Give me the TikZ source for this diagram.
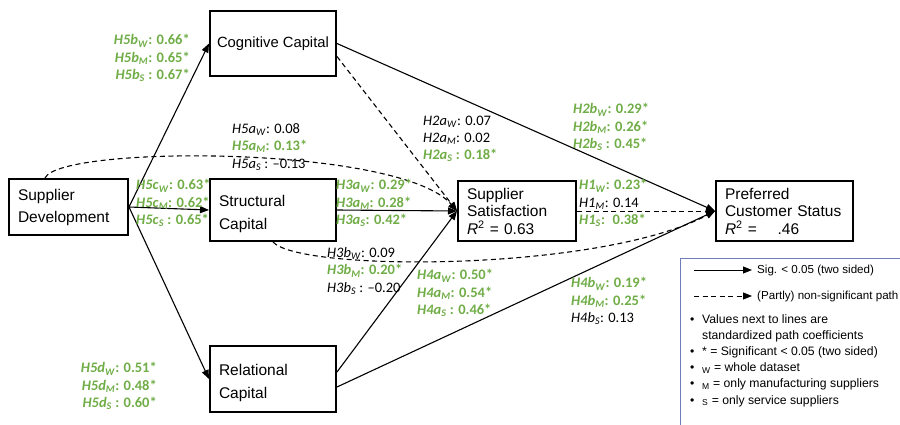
\documentclass[tikz,border=0pt]{standalone}
\usepackage{fontspec}
\setmainfont{Liberation Sans}
\newfontfamily\calib{Carlito}
\usetikzlibrary{arrows.meta,calc}
\definecolor{grn}{RGB}{112,173,71}
\definecolor{lgd}{RGB}{110,125,185}
\newcommand{\bx}[1]{\fontsize{15.5}{#1}\selectfont}
\newcommand{\labfont}{\calib\fontsize{14.5}{17.2}\selectfont}
\newcommand{\legfont}{\fontsize{12.2}{16.2}\selectfont}
\newcommand{\legfontb}{\fontsize{11.6}{14}\selectfont}
\newcommand{\gl}[3]{{\color{grn}\bfseries\textit{#1}\textsubscript{\textit{#2}}#3}}
\newcommand{\kl}[3]{{\textit{#1}\textsubscript{\textit{#2}}#3}}
\newcommand{\blt}{\makebox[12pt][l]{•}}
\begin{document}
\begin{tikzpicture}[x=1pt,y=-1pt,
  box/.style={draw, line width=2pt, align=left, inner xsep=9pt, inner ysep=0pt, anchor=north west},
  arr/.style={line width=1.1pt, -{Triangle[length=9pt,width=7pt]}},
  dsh/.style={arr, dash pattern=on 5pt off 3.5pt},
  lab/.style={font=\labfont, inner sep=0pt},
  lt/.style={font=\legfont, inner sep=0pt}]
\useasboundingbox (0,0) rectangle (900,425);
\clip (0,0) rectangle (900,425);

% boxes
\node[box, text width=101pt, minimum height=56pt, font=\bx{22}] (sd) at (8,178) {Supplier\\Development};
\node[box, minimum width=126pt, inner xsep=0pt, minimum height=65pt, font=\fontsize{14.8}{20}\selectfont] (cog) at (209,10) {Cognitive Capital};
\node[box, text width=108pt, minimum height=62pt, font=\bx{23.5}] (str) at (209,178) {\rule{0pt}{19pt}Structural\\Capital};
\node[box, text width=108pt, minimum height=66pt, font=\bx{23}] (rel) at (209,345) {\rule{0pt}{19pt}Relational\\Capital};
\node[box, text width=100pt, minimum height=60pt, font=\bx{17.5}] (sat) at (457,180) {Supplier\\Satisfaction\\\textit{R}\textsuperscript{2} = 0.63};
\node[box, text width=119pt, minimum height=60pt, font=\bx{17.5}] (pcs) at (715,180) {Preferred\\Customer Status\\\textit{R}\textsuperscript{2} =~~~ .46};

% connectors
\draw[arr] (sd.east) -- (cog.west);
\draw[arr] (sd.east) -- (str.west);
\draw[arr] (sd.east) -- (rel.west);
\draw[arr] (cog.east) -- (pcs.west);
\draw[dsh] ($(cog.east)+(0,13)$) -- (sat.west);
\draw[arr] (str.east) -- (sat.west);
\draw[arr] ($(rel.east)+(0,-7)$) -- (sat.west);
\draw[arr] ($(rel.east)+(0,8)$) -- (pcs.west);
\draw[dsh, line width=0.9pt] (sat.east) -- (pcs.west);
\draw[dsh] ($(sd.north west)+(37,0)$) .. controls (60,145) and (400,145) .. (sat.west);
\draw[dsh] (str.south) .. controls (300,272) and (600,272) .. (pcs.west);

% path labels
\node[lab, anchor=east, align=right] (l5b) at (190,58) {\gl{H5b}{W}{: 0.66*}\\\gl{H5b}{M}{: 0.65*}\\\gl{H5b}{S}{ : 0.67*}};
\node[lab, anchor=west, align=left] (l5a) at (232,147) {\kl{H5a}{W}{: 0.08}\\\gl{H5a}{M}{: 0.13*}\\\kl{H5a}{S}{ : –0.13}};
\node[lab, anchor=west, align=left] (l5c) at (136,203) {\gl{H5c}{W}{: 0.63*}\\\gl{H5c}{M}{: 0.62*}\\\gl{H5c}{S}{ : 0.65*}};
\node[lab, anchor=west, align=left] (l3a) at (336,203) {\gl{H3a}{W}{: 0.29*}\\\gl{H3a}{M}{: 0.28*}\\\gl{H3a}{S}{: 0.42*}};
\node[lab, anchor=west, align=left] (l3b) at (327,271) {\kl{H3b}{W}{: 0.09}\\\gl{H3b}{M}{: 0.20*}\\\kl{H3b}{S}{ : –0.20}};
\node[lab, anchor=west, align=left] (l2a) at (423,139) {\kl{H2a}{W}{: 0.07}\\\kl{H2a}{M}{: 0.02}\\\gl{H2a}{S}{ : 0.18*}};
\node[lab, anchor=west, align=left] (l4a) at (417,293) {\gl{H4a}{W}{: 0.50*}\\\gl{H4a}{M}{: 0.54*}\\\gl{H4a}{S}{ : 0.46*}};
\node[lab, anchor=west, align=left] (l2b) at (573,127) {\gl{H2b}{W}{: 0.29*}\\\gl{H2b}{M}{: 0.26*}\\\gl{H2b}{S}{ : 0.45*}};
\node[lab, anchor=west, align=left] (l1) at (579,203) {\gl{H1}{W}{: 0.23*}\\\kl{H1}{M}{: 0.14}\\\gl{H1}{S}{: ~0.38*}};
\node[lab, anchor=west, align=left] (l4b) at (571,301) {\gl{H4b}{W}{: 0.19*}\\\gl{H4b}{M}{: 0.25*}\\\kl{H4b}{S}{: 0.13}};
\node[lab, anchor=east, align=right] (l5d) at (157,386) {\gl{H5d}{W}{: 0.51*}\\\gl{H5d}{M}{: 0.48*}\\\gl{H5d}{S}{ : 0.60*}};

% legend
\node[draw=lgd, line width=1.3pt, minimum width=240pt, minimum height=190pt, anchor=north west, inner sep=0pt] (leg) at (680,258) {};
\coordinate (a1) at (694,270);
\coordinate (a2) at (752,270);
\coordinate (b1) at (694,296);
\coordinate (b2) at (752,296);
\draw[arr, line width=0.9pt] (a1) -- (a2);
\draw[dsh, line width=0.9pt] (b1) -- (b2);
\node[lt, font=\legfontb, anchor=west] (t1) at (757,270) {Sig. < 0.05 (two sided)};
\node[lt, font=\legfontb, anchor=west] (t2) at (757,296) {(Partly) non-significant path};
\node[lt, anchor=west, align=left] (t3) at (690,360.5) {\blt Values next to lines are\\\hspace*{12pt}standardized path coefficients\\\blt * = Significant < 0.05 (two sided)\\\blt\textsubscript{W} = whole dataset\\\blt\textsubscript{M} = only manufacturing suppliers\\\blt\textsubscript{S} = only service suppliers};
\end{tikzpicture}
\end{document}
